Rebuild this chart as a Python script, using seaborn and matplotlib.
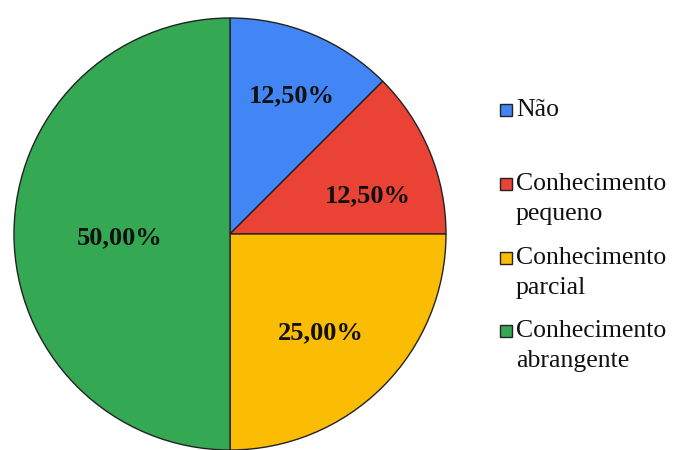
import matplotlib
matplotlib.use("Agg")
import matplotlib.pyplot as plt
import seaborn as sns
from matplotlib.patches import Rectangle
import numpy as np

sns.set_theme(style="white")
plt.rcParams['font.family'] = ['Liberation Serif', 'DejaVu Serif']

categories = ["Não", "Conhecimento pequeno", "Conhecimento parcial", "Conhecimento abrangente"]
legend_labels = ["Não", "Conhecimento\npequeno", "Conhecimento\nparcial", "Conhecimento\nabrangente"]
values = [12.5, 12.5, 25.0, 50.0]
pct_labels = ["12,50%", "12,50%", "25,00%", "50,00%"]
colors = ["#4285F4", "#EA4335", "#FBBC04", "#34A853"]

W, H = 678, 450
fig = plt.figure(figsize=(W / 100, H / 100), dpi=100)
cx, cy, r = 230, 234, 216
ax = fig.add_axes([(cx - r) / W, (H - cy - r) / H, 2 * r / W, 2 * r / H])
wedges, _ = ax.pie(values, colors=colors, startangle=90, counterclock=False,
                   radius=1.0, wedgeprops=dict(edgecolor="#222222", linewidth=1.0))
ax.set_xlim(-1, 1)
ax.set_ylim(-1, 1)
ax.axis("off")

# label placement per wedge (distance from center, angle tweak)
dists = [0.70, 0.66, 0.62, 0.51]
tweaks = [-1.5, -7.0, -2.5, 2.0]
for w, lab, d, t in zip(wedges, pct_labels, dists, tweaks):
    ang = np.deg2rad((w.theta1 + w.theta2) / 2 + t)
    ax.text(d * np.cos(ang), d * np.sin(ang), lab, ha="center", va="center",
            fontsize=19, fontweight="bold", color="#111111")

# legend drawn manually (marker aligned with first line)
ys = [110, 184, 258, 331]
for y, lab, c in zip(ys, legend_labels, colors):
    fig.patches.append(Rectangle((500 / W, (H - y - 6) / H), 12 / W, 12 / H,
                                 transform=fig.transFigure, facecolor=c,
                                 edgecolor="#222222", linewidth=1.0))
    parts = lab.split("\n")
    fig.text(516 / W, (H - y) / H, parts[0], ha="left", va="center",
             fontsize=18.5, color="#111111")
    if len(parts) > 1:
        fig.text(516 / W, (H - y - 30) / H, parts[1], ha="left", va="center",
                 fontsize=18.5, color="#111111")

fig.savefig("out.png", dpi=100)
